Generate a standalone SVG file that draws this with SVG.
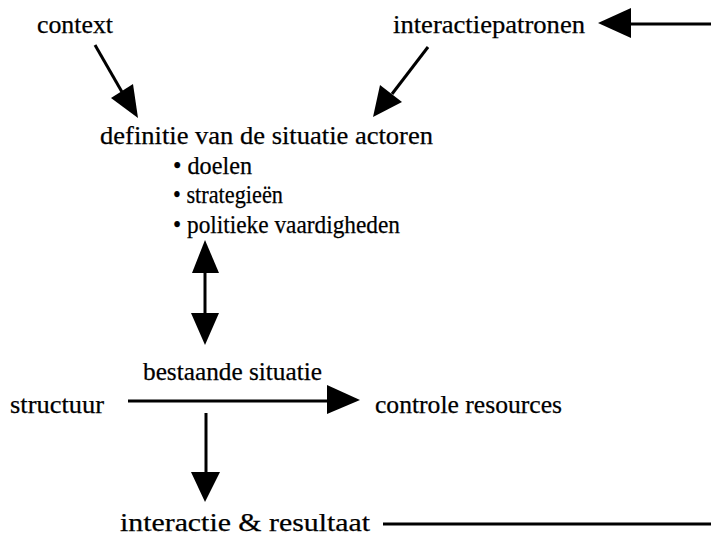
<svg xmlns="http://www.w3.org/2000/svg" width="711" height="542" viewBox="0 0 711 542">
<style>
text{font-family:"Liberation Serif","Times New Roman",Times,serif;font-size:26px;fill:#000;stroke:#000;stroke-width:0.25}
.ln{stroke:#000;stroke-width:3;fill:none}
.ah{fill:#000;stroke:none}
</style>
<rect width="711" height="542" fill="#fff"/>
<g id="context"><text x="37" y="33" textLength="76" lengthAdjust="spacingAndGlyphs">context</text></g>
<g id="interactiepatronen"><text x="393" y="33" textLength="192" lengthAdjust="spacingAndGlyphs">interactiepatronen</text></g>
<g id="definitie">
<text x="100" y="144" textLength="333" lengthAdjust="spacingAndGlyphs">definitie van de situatie actoren</text>
<text x="173" y="174" textLength="79" lengthAdjust="spacingAndGlyphs">• doelen</text>
<text x="173" y="203" textLength="110" lengthAdjust="spacingAndGlyphs">• strategieën</text>
<text x="173" y="233" textLength="227" lengthAdjust="spacingAndGlyphs">• politieke vaardigheden</text>
</g>
<g id="bestaande"><text x="143" y="380" textLength="179" lengthAdjust="spacingAndGlyphs">bestaande situatie</text></g>
<g id="structuur"><text x="10" y="413" textLength="94" lengthAdjust="spacingAndGlyphs">structuur</text></g>
<g id="controle"><text x="375" y="413" textLength="187" lengthAdjust="spacingAndGlyphs">controle resources</text></g>
<g id="interactie"><text x="120" y="531" textLength="250" lengthAdjust="spacingAndGlyphs">interactie &amp; resultaat</text></g>
<g id="connectors">
<line class="ln" x1="711" y1="24" x2="628" y2="24"/>
<polygon class="ah" points="598,23 631,8 631,38"/>
<line class="ln" x1="95" y1="45" x2="122" y2="92"/>
<polygon class="ah" points="138,118 111,98 133,84"/>
<line class="ln" x1="428" y1="47" x2="392" y2="94"/>
<polygon class="ah" points="373,117 380,85 402,102"/>
<line class="ln" x1="205" y1="270" x2="205" y2="316"/>
<polygon class="ah" points="205,240 192,273 219,273"/>
<polygon class="ah" points="205,345 191,313 219,313"/>
<line class="ln" x1="128" y1="401" x2="330" y2="401"/>
<polygon class="ah" points="360,400 327,385 327,414"/>
<line class="ln" x1="206" y1="413" x2="206" y2="475"/>
<polygon class="ah" points="205,502 191,472 220,472"/>
<line class="ln" x1="383" y1="524" x2="711" y2="524"/>
</g>
</svg>
